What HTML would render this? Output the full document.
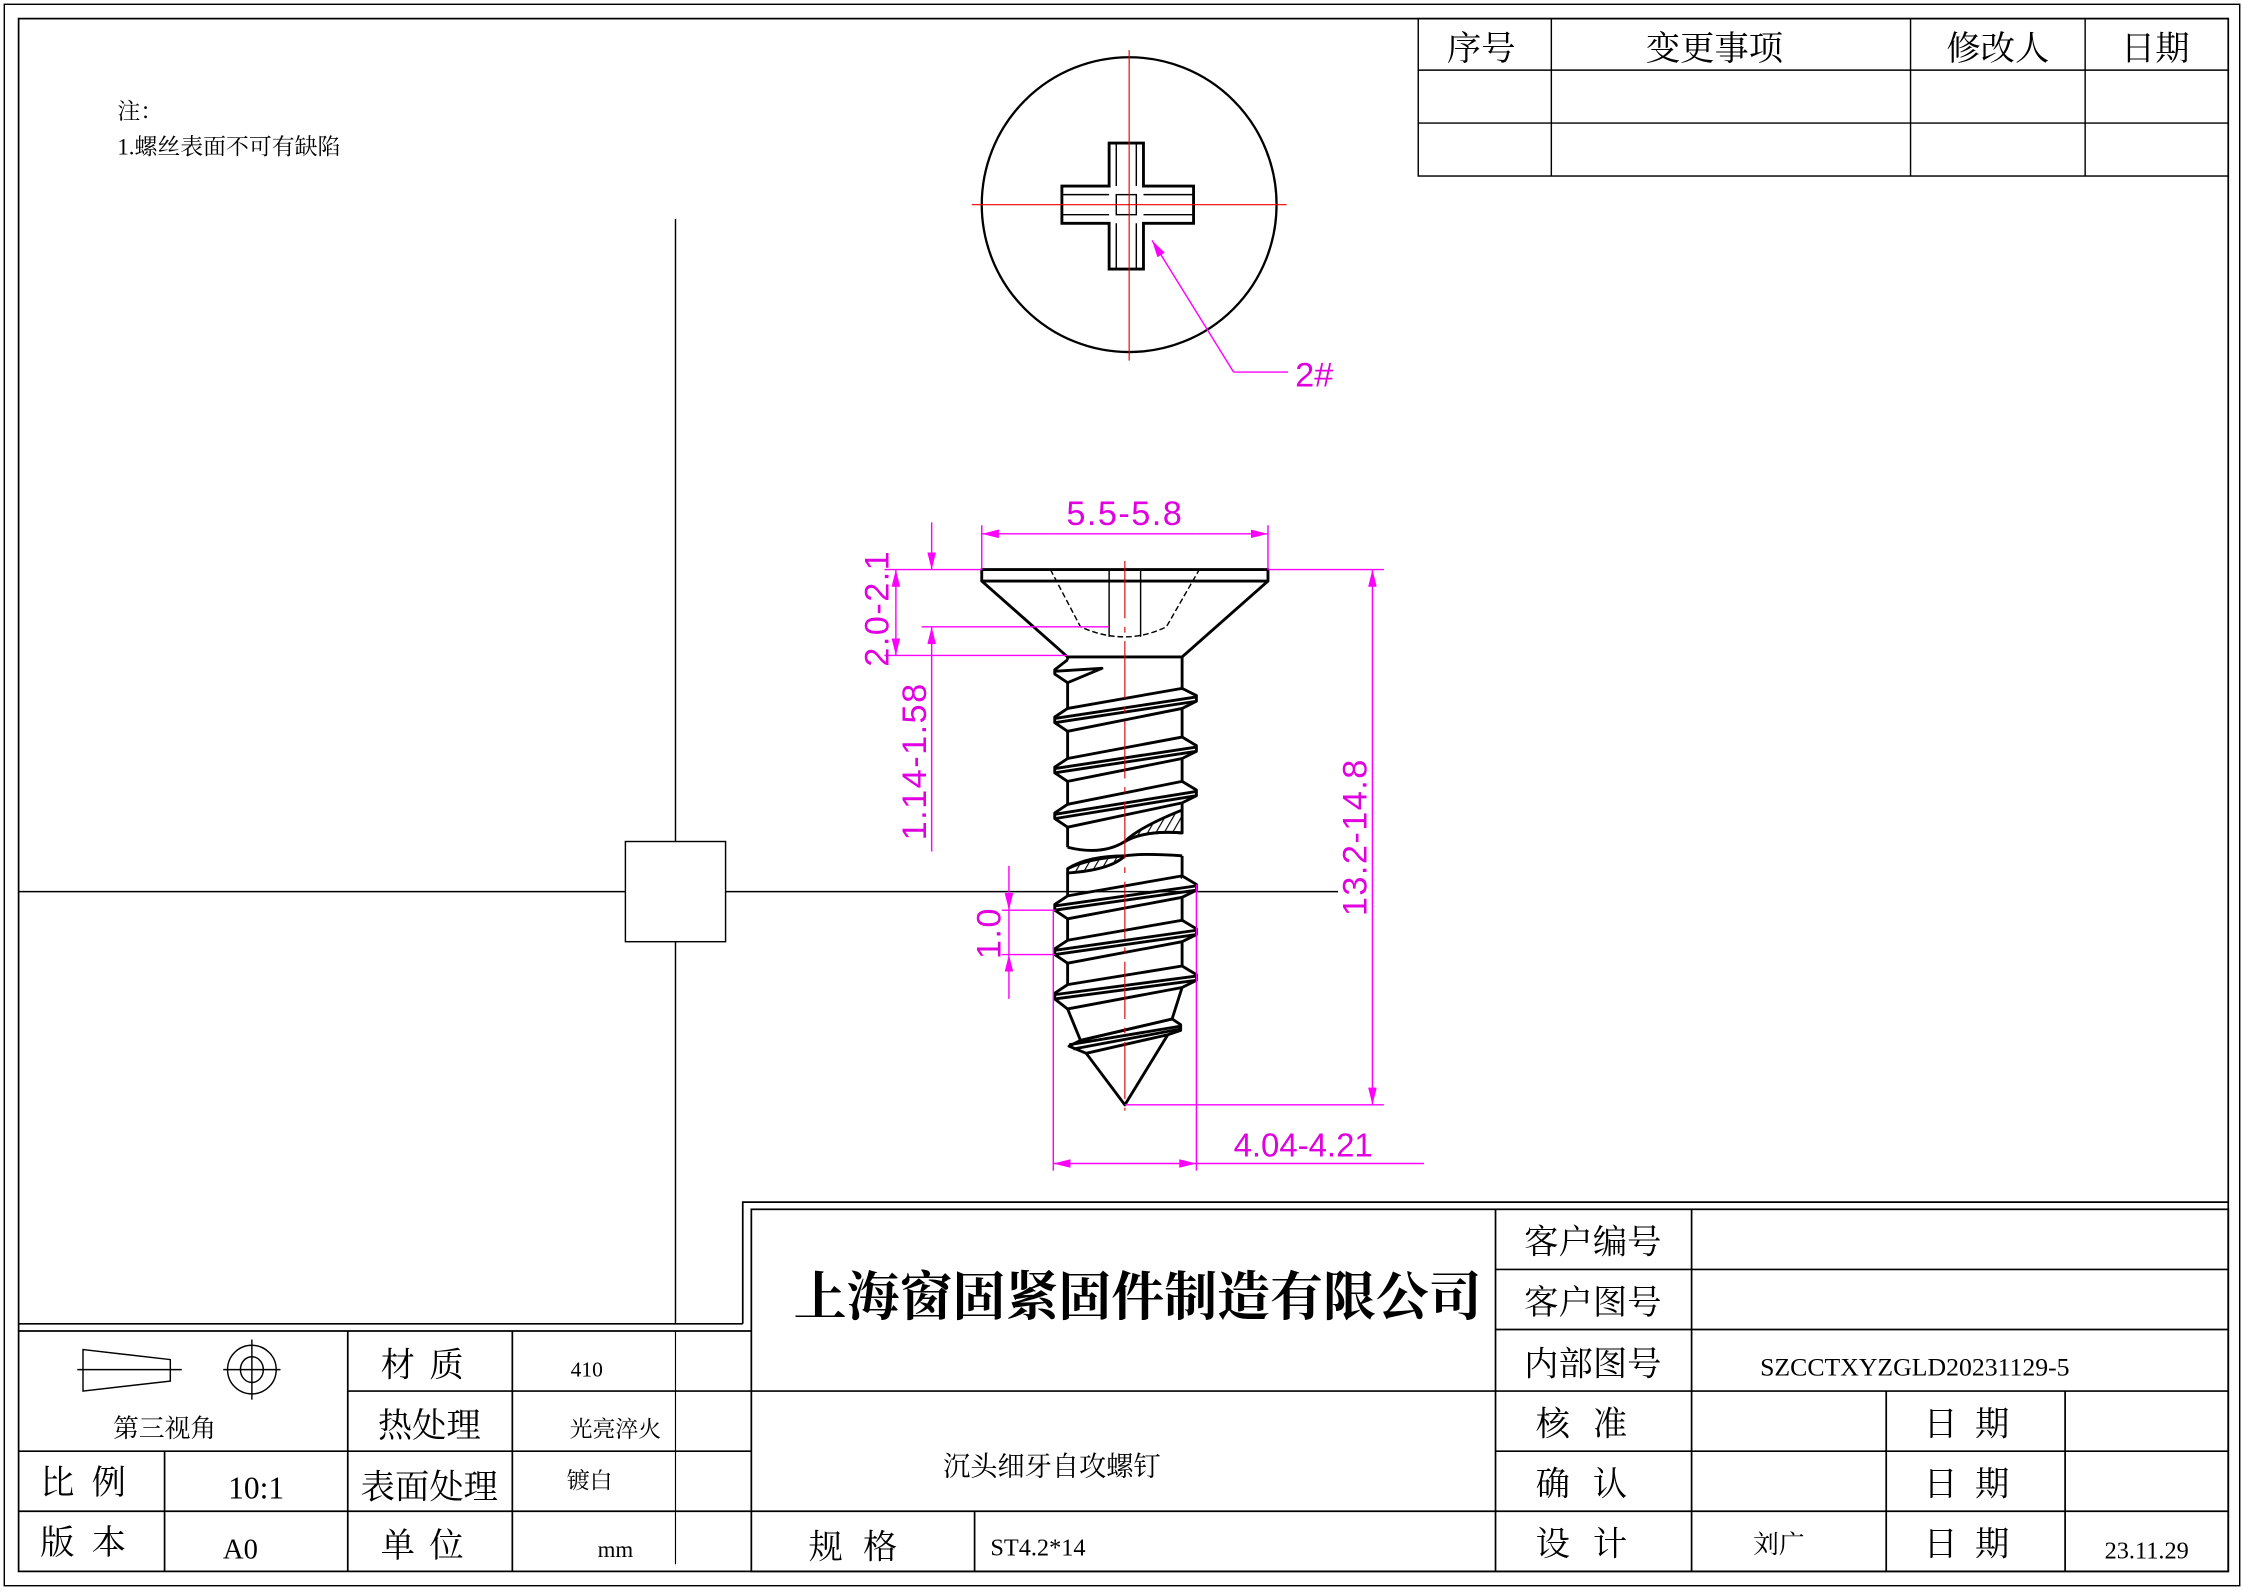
<!DOCTYPE html>
<html><head><meta charset="utf-8"><style>
html,body{margin:0;padding:0;background:#fff;}
svg{display:block;}
.cn{font-family:"Liberation Serif","Noto Serif CJK SC",serif;}
.dim{font-family:"Liberation Sans","DejaVu Sans",sans-serif;fill:#e000e0;}
</style></head><body>
<svg width="2244" height="1591" viewBox="0 0 1568 1111.7" preserveAspectRatio="none" xmlns="http://www.w3.org/2000/svg">
<defs>
<marker id="ar" viewBox="0 0 12 6" refX="12" refY="3" markerWidth="12" markerHeight="6" markerUnits="userSpaceOnUse" orient="auto"><path d="M0,0L12,3L0,6z" fill="#f0f"/></marker>
<pattern id="hatch" width="5" height="5" patternUnits="userSpaceOnUse" patternTransform="rotate(30)"><line x1="0" y1="0" x2="0" y2="5" stroke="#000" stroke-width="1.6"/></pattern>
</defs>
<rect width="1568" height="1111.7" fill="#fff"/>
<rect x="3" y="3" width="1562" height="1105" fill="none" stroke="#000" stroke-width="1"/>
<rect x="13" y="13" width="1544" height="1085" fill="none" stroke="#000" stroke-width="1.2"/>

<g stroke="#000" stroke-width="1" fill="none">
<rect x="991" y="13" width="566" height="110"/>
<line x1="991" y1="49" x2="1557" y2="49"/><line x1="991" y1="86" x2="1557" y2="86"/>
<line x1="1084" y1="13" x2="1084" y2="123"/><line x1="1335" y1="13" x2="1335" y2="123"/><line x1="1457" y1="13" x2="1457" y2="123"/>
</g>
<g class="cn" font-size="24" text-anchor="middle">
<text x="1035" y="42">序号</text><text x="1198" y="42">变更事项</text><text x="1396" y="42">修改人</text><text x="1506" y="42">日期</text>
</g>
<g class="cn" font-size="16">
<text x="82" y="83">注：</text><text x="82" y="108">1.螺丝表面不可有缺陷</text>
</g>

<g stroke="#000" stroke-width="1">
<line x1="472" y1="153" x2="472" y2="925"/>
<line x1="13" y1="623" x2="935" y2="623"/>
<rect x="437" y="588" width="70" height="70" fill="#fff"/>
</g>

<circle cx="789" cy="143" r="103" fill="none" stroke="#000" stroke-width="1.6"/>
<path d="M775,100H799V130H834V156H799V188H775V156H742V130H775Z" fill="#fff" stroke="#000" stroke-width="2"/>
<g stroke="#000" stroke-width="1" fill="none">
<path d="M780,100V130M794,100V130M780,156V188M794,156V188M742,136H775M742,150H775M799,136H834M799,150H834"/>
<rect x="780" y="136" width="14" height="14"/>
</g>
<g stroke="#e00" stroke-width="0.8">
<line x1="679" y1="143" x2="899" y2="143"/><line x1="789" y1="35" x2="789" y2="252"/>
</g>
<polyline points="862,260 900,260" stroke="#f0f" fill="none"/>
<line x1="862" y1="260" x2="805" y2="168" stroke="#f0f" marker-end="url(#ar)"/>
<text x="905" y="270" class="dim" font-size="24">2#</text>

<g stroke="#000" stroke-width="2" fill="none" stroke-linejoin="round">
<rect x="686" y="398" width="200" height="8"/>
<path d="M686,406L746,459H826L886,406"/>
<path d="M746,461L737,468L737,471L746,477L770,467L738,469"/>
<path d="M746,459V461M746,477V495M826,459V481"/>
</g>
<g stroke="#000" stroke-width="1" fill="none" stroke-dasharray="4,2">
<path d="M734,398L755,438Q786,452 815,438L838,398"/>
</g>
<g stroke="#000" stroke-width="1"><line x1="775" y1="398" x2="775" y2="445"/><line x1="797" y1="398" x2="797" y2="445"/></g>

<g stroke="#000" stroke-width="2" fill="#fff" stroke-linejoin="round">
<path d="M746,495L737,501L737,505L746,511M826,481L836,486L836,490L826,495"/>
<path d="M746,495L826,481M737,502L836,487M737,505L836,490M746,511L826,495" fill="none"/>
<path d="M746,511V530M826,495V515" fill="none"/>
<path d="M746,530L737,536L737,540L746,546M826,515L836,521L836,525L826,530"/>
<path d="M746,530L826,515M737,537L836,522M737,540L836,525M746,546L826,530" fill="none"/>
<path d="M746,546V562M826,530V546" fill="none"/>
<path d="M746,562L737,568L737,572L746,578M826,546L836,552L836,556L826,561"/>
<path d="M746,562L826,546M737,569L836,553M737,572L836,556M746,578L826,561" fill="none"/>
<path d="M746,578V592M826,561V566" fill="none"/>
<path d="M746,592Q770,598 786,588Q800,580 826,582" fill="none"/>
<path d="M746,607Q760,600 786,598Q800,596 826,598" fill="none"/>
<path d="M786,588Q796,578 826,566L826,582Q800,580 786,588Z" fill="url(#hatch)"/>
<path d="M746,607Q760,598 786,598Q776,608 746,610Z" fill="url(#hatch)"/>
<path d="M826,598V614M746,610V626" fill="none"/>
<path d="M746,626L737,632L737,636L746,642M826,612L836,618L836,622L826,627"/>
<path d="M746,626L826,612M737,633L836,619M737,636L836,622M746,642L826,627" fill="none"/>
<path d="M746,642V657M826,627V643" fill="none"/>
<path d="M746,657L737,663L737,667L746,673M826,643L836,649L836,653L826,658"/>
<path d="M746,657L826,643M737,664L836,650M737,667L836,653M746,673L826,658" fill="none"/>
<path d="M746,673V688M826,658V675" fill="none"/>
<path d="M746,688L737,694L737,698L746,705M826,675L836,681L836,685L826,690"/>
<path d="M746,688L826,675M737,695L836,682M737,698L836,685M746,705L826,690" fill="none"/>
<path d="M746,705L755,727M826,690L819,712" fill="none"/>
<path d="M819,712L825,716L825,720L816,723L759,736L747,731L755,727Z"/>
<path d="M755,727L819,712M747,730L825,717M750,733L825,719" fill="none"/>
<path d="M759,736L786,772L816,723" fill="none"/>
</g>
<line x1="786" y1="392" x2="786" y2="776" stroke="#d00" stroke-width="0.8" stroke-dasharray="40,6,4,6"/>

<g stroke="#f0f" stroke-width="1" fill="none">
<line x1="686" y1="367" x2="686" y2="398"/><line x1="886" y1="367" x2="886" y2="398"/>
<line x1="736" y1="373" x2="686" y2="373" marker-end="url(#ar)"/><line x1="836" y1="373" x2="886" y2="373" marker-end="url(#ar)"/>
<line x1="736" y1="373" x2="836" y2="373"/>
<line x1="886" y1="398" x2="967" y2="398"/><line x1="786" y1="772" x2="967" y2="772"/>
<line x1="959" y1="585" x2="959" y2="398" marker-end="url(#ar)"/><line x1="959" y1="585" x2="959" y2="772" marker-end="url(#ar)"/>
<line x1="618" y1="398" x2="686" y2="398"/><line x1="618" y1="458" x2="746" y2="458"/>
<line x1="626" y1="428" x2="626" y2="398" marker-end="url(#ar)"/><line x1="626" y1="428" x2="626" y2="458" marker-end="url(#ar)"/>
<line x1="644" y1="438" x2="775" y2="438"/>
<line x1="651" y1="365" x2="651" y2="398" marker-end="url(#ar)"/><line x1="651" y1="595" x2="651" y2="438" marker-end="url(#ar)"/>
<line x1="700" y1="636" x2="737" y2="636"/><line x1="700" y1="667" x2="737" y2="667"/>
<line x1="705" y1="605" x2="705" y2="636" marker-end="url(#ar)"/><line x1="705" y1="698" x2="705" y2="667" marker-end="url(#ar)"/>
<line x1="705" y1="636" x2="705" y2="667"/>
<line x1="736" y1="636" x2="736" y2="818"/><line x1="836" y1="618" x2="836" y2="818"/>
<line x1="786" y1="813" x2="736" y2="813" marker-end="url(#ar)"/><line x1="786" y1="813" x2="836" y2="813" marker-end="url(#ar)"/>
<line x1="836" y1="813" x2="995" y2="813"/>
</g>
<g class="dim" font-size="24" letter-spacing="1">
<text x="786" y="367" text-anchor="middle">5.5-5.8</text>
<text x="862" y="808" font-size="23" letter-spacing="0">4.04-4.21</text>
<text transform="translate(955,585) rotate(-90)" text-anchor="middle">13.2-14.8</text>
<text transform="translate(621,425) rotate(-90)" text-anchor="middle">2.0-2.1</text>
<text transform="translate(647,532) rotate(-90)" text-anchor="middle">1.14-1.58</text>
<text transform="translate(699,652) rotate(-90)" text-anchor="middle">1.0</text>
</g>

<g stroke="#000" stroke-width="1.2" fill="none">
<line x1="13" y1="925" x2="519" y2="925"/>
<path d="M519,925V840H1557"/>
<rect x="525" y="845" width="1032" height="253"/>
<line x1="13" y1="930" x2="525" y2="930"/>
<line x1="243" y1="972" x2="525" y2="972"/>
<line x1="13" y1="1014" x2="525" y2="1014"/>
<line x1="13" y1="1056" x2="525" y2="1056"/>
<line x1="115" y1="1014" x2="115" y2="1098"/>
<line x1="243" y1="930" x2="243" y2="1098"/>
<line x1="358" y1="930" x2="358" y2="1098"/>
<line x1="472" y1="930" x2="472" y2="1093" stroke-width="0.8"/>
<line x1="525" y1="972" x2="1557" y2="972"/>
<line x1="1045" y1="845" x2="1045" y2="1098"/>
<line x1="1182" y1="845" x2="1182" y2="1098"/>
<line x1="1045" y1="887" x2="1557" y2="887"/>
<line x1="1045" y1="929" x2="1557" y2="929"/>
<line x1="1045" y1="1014" x2="1557" y2="1014"/>
<line x1="525" y1="1056" x2="1557" y2="1056"/>
<line x1="681" y1="1056" x2="681" y2="1098"/>
<line x1="1318" y1="972" x2="1318" y2="1098"/>
<line x1="1443" y1="972" x2="1443" y2="1098"/>
</g>
<g stroke="#000" stroke-width="1" fill="none">
<path d="M58,943L119,950V965L58,972Z"/><line x1="54" y1="957" x2="127" y2="957"/>
<circle cx="176" cy="957" r="17"/><ellipse cx="176" cy="957" rx="8" ry="9"/>
<line x1="156" y1="957" x2="196" y2="957"/><line x1="176" y1="936" x2="176" y2="978"/>
</g>
<g class="cn" fill="#000">
<text x="115" y="1004" font-size="18" text-anchor="middle">第三视角</text>
<text x="64" y="1044" font-size="24" text-anchor="middle" letter-spacing="12">比例</text>
<text x="64" y="1086" font-size="24" text-anchor="middle" letter-spacing="12">版本</text>
<text x="179" y="1047" font-size="22" text-anchor="middle">10:1</text>
<text x="168" y="1089" font-size="20" text-anchor="middle">A0</text>
<text x="300" y="962" font-size="24" text-anchor="middle" letter-spacing="10">材质</text>
<text x="300" y="1004" font-size="24" text-anchor="middle">热处理</text>
<text x="300" y="1047" font-size="24" text-anchor="middle">表面处理</text>
<text x="300" y="1088" font-size="24" text-anchor="middle" letter-spacing="10">单位</text>
<text x="410" y="962" font-size="15" text-anchor="middle">410</text>
<text x="430" y="1004" font-size="16" text-anchor="middle">光亮淬火</text>
<text x="412" y="1040" font-size="16" text-anchor="middle">镀白</text>
<text x="430" y="1088" font-size="16" text-anchor="middle">mm</text>
<text x="795" y="919" font-size="37" font-weight="bold" text-anchor="middle">上海窗固紧固件制造有限公司</text>
<text x="1113" y="876" font-size="24" text-anchor="middle">客户编号</text>
<text x="1113" y="918" font-size="24" text-anchor="middle">客户图号</text>
<text x="1113" y="961" font-size="24" text-anchor="middle">内部图号</text>
<text x="1338" y="961" font-size="18" text-anchor="middle">SZCCTXYZGLD20231129-5</text>
<text x="735" y="1031" font-size="19" text-anchor="middle">沉头细牙自攻螺钉</text>
<text x="603" y="1089" font-size="24" text-anchor="middle" letter-spacing="14">规格</text>
<text x="692" y="1087" font-size="17">ST4.2*14</text>
<text x="1113" y="1003" font-size="24" text-anchor="middle" letter-spacing="16">核准</text>
<text x="1113" y="1045" font-size="24" text-anchor="middle" letter-spacing="16">确认</text>
<text x="1113" y="1087" font-size="24" text-anchor="middle" letter-spacing="16">设计</text>
<text x="1380" y="1003" font-size="24" text-anchor="middle" letter-spacing="12">日期</text>
<text x="1380" y="1045" font-size="24" text-anchor="middle" letter-spacing="12">日期</text>
<text x="1380" y="1087" font-size="24" text-anchor="middle" letter-spacing="12">日期</text>
<text x="1243" y="1085" font-size="18" text-anchor="middle">刘广</text>
<text x="1500" y="1089" font-size="17" text-anchor="middle">23.11.29</text>
</g>
</svg>
</body></html>
